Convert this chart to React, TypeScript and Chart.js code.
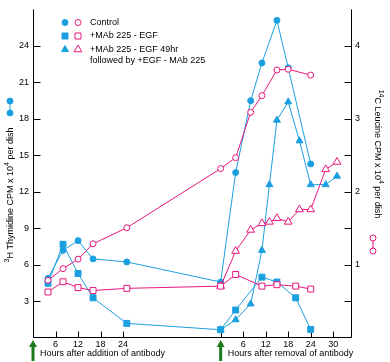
import React, { useEffect, useRef } from 'react';
import { Chart, registerables } from 'chart.js';

Chart.register(...registerables);

// x-axis break: hours after addition at which the antibody was removed
const REMOVAL_OFFSET = 50;

// ---- hours after addition of antibody ----
const additionHours = [4, 8, 12, 16, 25];
const controlThyAdd = [4.9, 7.2, 8.0, 6.5, 6.25];
const controlLeuAdd = [0.79, 0.95, 1.08, 1.29, 1.51];
const mabThyAdd = [4.5, 7.7, 5.3, 3.3, 1.2];
const mabLeuAdd = [0.63, 0.77, 0.69, 0.65, 0.68];

// ---- hours after removal of antibody ----
const controlRemovalHours = [0, 4, 8, 11, 15, 18, 24];
const controlThyRem = [4.6, 13.6, 19.5, 22.6, 26.1, 22.2, 14.3];
const controlLeuRem = [2.32, 2.47, 3.09, 3.32, 3.67, 3.68, 3.6];

const mabRemovalHours = [0, 4, 11, 15, 20, 24];
const mabThyRem = [0.68, 2.3, 5.0, 4.6, 3.3, 0.7];
const mabLeuRem = [0.71, 0.87, 0.71, 0.73, 0.71, 0.67];

const rescueRemovalHours = [0, 4, 8, 11, 13, 15, 18, 21, 24, 28, 31];
const rescueThyRem = [0.68, 1.5, 2.8, 7.2, 12.6, 17.9, 19.4, 16.2, 12.6, 12.6, 13.3];
const rescueLeuRem = [0.71, 1.19, 1.48, 1.57, 1.59, 1.64, 1.59, 1.76, 1.76, 2.31, 2.41];

// ---- ticks ----
const additionTicks = [6, 12, 18, 24];
const removalTicks = [0, 6, 12, 18, 24, 30];
const thymidineTicks = [3, 6, 9, 12, 15, 18, 21, 24];
const leucineTicks = [0.5, 1, 1.5, 2, 2.5, 3, 3.5, 4];

const legendLabels = ['Control', '+MAb 225 - EGF', '+MAb 225 - EGF 49hr', 'followed by +EGF - MAb 225'];
const xTitleAddition = 'Hours after addition of antibody';
const xTitleRemoval = 'Hours after removal of antibody';
const leftTitle = [
  { t: '3', sup: true },
  { t: 'H Thymidine CPM x 10', sup: false },
  { t: '4', sup: true },
  { t: ' per dish', sup: false },
];
const rightTitle = [
  { t: '14', sup: true },
  { t: 'C Leucine CPM x 10', sup: false },
  { t: '4', sup: true },
  { t: ' per dish', sup: false },
];

const BLUE = '#1a9fe0';
const PINK = '#e6177d';
const GREEN = '#1b7a1b';
const FONT = '"Liberation Sans", Arial, Helvetica, sans-serif';

function series(addH: number[], addV: number[], remH: number[], remV: number[]) {
  const pts: { x: number; y: number }[] = [];
  addH.forEach((h, i) => pts.push({ x: h, y: addV[i] }));
  remH.forEach((h, i) => pts.push({ x: h + REMOVAL_OFFSET, y: remV[i] }));
  return pts;
}

function drawMarker(ctx: CanvasRenderingContext2D, style: string, x: number, y: number, filled: boolean, color: string) {
  ctx.save();
  ctx.beginPath();
  if (style === 'circle') {
    ctx.arc(x, y, 3, 0, Math.PI * 2);
  } else if (style === 'rect') {
    ctx.rect(x - 3, y - 3, 6, 6);
  } else {
    const r = filled ? 4 : 4.5;
    ctx.moveTo(x, y - r);
    ctx.lineTo(x + r * 0.866, y + r * 0.5);
    ctx.lineTo(x - r * 0.866, y + r * 0.5);
    ctx.closePath();
  }
  ctx.lineWidth = 1;
  ctx.strokeStyle = color;
  ctx.fillStyle = filled ? color : '#fff';
  ctx.fill();
  ctx.stroke();
  ctx.restore();
}

function drawRich(ctx: CanvasRenderingContext2D, parts: { t: string; sup: boolean }[], cx: number, cy: number, angle: number) {
  ctx.save();
  ctx.translate(cx, cy);
  ctx.rotate(angle);
  ctx.fillStyle = '#000';
  ctx.textBaseline = 'middle';
  ctx.textAlign = 'left';
  const main = `9px ${FONT}`;
  const small = `7px ${FONT}`;
  let total = 0;
  parts.forEach((p) => {
    ctx.font = p.sup ? small : main;
    total += ctx.measureText(p.t).width;
  });
  let x = -total / 2;
  parts.forEach((p) => {
    ctx.font = p.sup ? small : main;
    ctx.fillText(p.t, x, p.sup ? -3.5 : 0);
    x += ctx.measureText(p.t).width;
  });
  ctx.restore();
}

const decorPlugin = {
  id: 'decor',
  beforeDatasetsDraw(chart: any) {
    const { ctx, chartArea } = chart;
    const xs = chart.scales.x;
    const ys = chart.scales.y;
    const y1 = chart.scales.y1;
    const L = Math.floor(chartArea.left) + 0.5;
    const R = Math.round(chartArea.right) - 0.5;
    const B = Math.round(chartArea.bottom) - 0.5;
    ctx.save();
    ctx.strokeStyle = '#000';
    ctx.lineWidth = 1;
    ctx.beginPath();
    // axes lines
    ctx.moveTo(L, chartArea.top);
    ctx.lineTo(L, B);
    ctx.lineTo(R, B);
    ctx.lineTo(R, chartArea.top);
    // x ticks (inward)
    xs.ticks.forEach((t: any) => {
      const px = Math.round(xs.getPixelForValue(t.value)) + 0.5;
      ctx.moveTo(px, B);
      ctx.lineTo(px, B - 6);
    });
    ys.ticks.forEach((t: any) => {
      const py = Math.round(ys.getPixelForValue(t.value)) + 0.5;
      ctx.moveTo(L, py);
      ctx.lineTo(L + 7, py);
    });
    y1.ticks.forEach((t: any) => {
      const py = Math.round(y1.getPixelForValue(t.value)) + 0.5;
      ctx.moveTo(R, py);
      ctx.lineTo(R - 7, py);
    });
    ctx.stroke();
    ctx.restore();
  },
  afterDraw(chart: any) {
    const { ctx } = chart;
    const xs = chart.scales.x;
    // legend
    const rows = [22.5, 36, 49.5];
    const styles = ['circle', 'rect', 'triangle'];
    rows.forEach((ry, i) => {
      drawMarker(ctx, styles[i], 65, ry, true, BLUE);
      drawMarker(ctx, styles[i], 78, ry, false, PINK);
    });
    ctx.save();
    ctx.fillStyle = '#000';
    ctx.font = `9px ${FONT}`;
    ctx.textBaseline = 'middle';
    ctx.textAlign = 'left';
    ctx.fillText(legendLabels[0], 90, 22.5);
    ctx.fillText(legendLabels[1], 90, 36);
    ctx.fillText(legendLabels[2], 90, 49.5);
    ctx.fillText(legendLabels[3], 90, 61);
    ctx.restore();

    // axis titles
    drawRich(ctx, leftTitle, 11, 195, -Math.PI / 2);
    drawRich(ctx, rightTitle, 377, 154, Math.PI / 2);

    // dumbbell keys
    ctx.save();
    ctx.lineWidth = 1;
    ctx.strokeStyle = BLUE;
    ctx.beginPath();
    ctx.moveTo(10, 101);
    ctx.lineTo(10, 113);
    ctx.stroke();
    ctx.strokeStyle = PINK;
    ctx.beginPath();
    ctx.moveTo(373, 238);
    ctx.lineTo(373, 251);
    ctx.stroke();
    ctx.restore();
    drawMarker(ctx, 'circle', 10, 101, true, BLUE);
    drawMarker(ctx, 'circle', 10, 113, true, BLUE);
    drawMarker(ctx, 'circle', 373, 238, false, PINK);
    drawMarker(ctx, 'circle', 373, 251, false, PINK);

    // arrows + x titles
    [0, REMOVAL_OFFSET].forEach((v, i) => {
      const ax = xs.getPixelForValue(v);
      ctx.save();
      ctx.fillStyle = GREEN;
      ctx.beginPath();
      ctx.moveTo(ax, 340);
      ctx.lineTo(ax + 4, 347);
      ctx.lineTo(ax + 1.5, 347);
      ctx.lineTo(ax + 1.5, 361);
      ctx.lineTo(ax - 1.5, 361);
      ctx.lineTo(ax - 1.5, 347);
      ctx.lineTo(ax - 4, 347);
      ctx.closePath();
      ctx.fill();
      ctx.fillStyle = '#000';
      ctx.font = `9px ${FONT}`;
      ctx.textBaseline = 'middle';
      ctx.textAlign = 'left';
      ctx.fillText(i === 0 ? xTitleAddition : xTitleRemoval, ax + 7, 354);
      ctx.restore();
    });
  },
};

export default function App() {
  const ref = useRef<HTMLCanvasElement | null>(null);

  useEffect(() => {
    if (!ref.current) return;
    Chart.defaults.font.family = FONT;
    Chart.defaults.font.size = 9;
    Chart.defaults.color = '#000';

    const blueStyle = (ps: string, r: number) => ({
      borderColor: BLUE,
      backgroundColor: BLUE,
      pointBackgroundColor: BLUE,
      pointBorderColor: BLUE,
      pointStyle: ps,
      pointRadius: r,
      borderWidth: 1,
      pointBorderWidth: 1,
      tension: 0,
      yAxisID: 'y',
    });
    const pinkStyle = (ps: string, r: number) => ({
      borderColor: PINK,
      backgroundColor: '#fff',
      pointBackgroundColor: '#fff',
      pointBorderColor: PINK,
      pointStyle: ps,
      pointRadius: r,
      borderWidth: 1,
      pointBorderWidth: 1,
      tension: 0,
      yAxisID: 'y1',
    });

    const allXTicks = [
      ...additionTicks,
      ...removalTicks.map((h) => h + REMOVAL_OFFSET),
    ];

    const chart = new Chart(ref.current, {
      type: 'line',
      data: {
        datasets: [
          { label: 'Control leucine', data: series(additionHours, controlLeuAdd, controlRemovalHours, controlLeuRem), ...pinkStyle('circle', 3) },
          { label: 'MAb leucine', data: series(additionHours, mabLeuAdd, mabRemovalHours, mabLeuRem), ...pinkStyle('rect', 4.2) },
          { label: 'Rescue leucine', data: series([], [], rescueRemovalHours, rescueLeuRem), ...pinkStyle('triangle', 4.5) },
          { label: 'Control thymidine', data: series(additionHours, controlThyAdd, controlRemovalHours, controlThyRem), ...blueStyle('circle', 3) },
          { label: 'MAb thymidine', data: series(additionHours, mabThyAdd, mabRemovalHours, mabThyRem), ...blueStyle('rect', 4.2) },
          { label: 'Rescue thymidine', data: series([], [], rescueRemovalHours, rescueThyRem), ...blueStyle('triangle', 4) },
        ] as any,
      },
      options: {
        responsive: false,
        animation: false,
        layout: { padding: 0, autoPadding: false } as any,
        plugins: { legend: { display: false }, tooltip: { enabled: false } },
        scales: {
          x: {
            type: 'linear',
            min: 0,
            max: 85,
            grid: { display: false, drawTicks: false },
            border: { display: false },
            afterBuildTicks: (s: any) => {
              s.ticks = allXTicks.map((v) => ({ value: v }));
            },
            afterFit: (s: any) => {
              s.height = 24;
            },
            ticks: {
              autoSkip: false,
              maxRotation: 0,
              padding: 1,
              font: { size: 9 },
              callback: (v: any) => {
                const n = Number(v);
                if (n >= REMOVAL_OFFSET) return n === REMOVAL_OFFSET ? '' : String(n - REMOVAL_OFFSET);
                return String(n);
              },
            },
          },
          y: {
            type: 'linear',
            position: 'left',
            min: 0,
            max: 27,
            grid: { display: false, drawTicks: false },
            border: { display: false },
            afterBuildTicks: (s: any) => {
              s.ticks = thymidineTicks.map((v) => ({ value: v }));
            },
            afterFit: (s: any) => {
              s.width = 33;
            },
            ticks: { padding: 4, font: { size: 9 }, callback: (v: any) => String(v) },
          },
          y1: {
            type: 'linear',
            position: 'right',
            min: 0,
            max: 4.5,
            grid: { display: false, drawTicks: false },
            border: { display: false },
            afterBuildTicks: (s: any) => {
              s.ticks = leucineTicks.map((v) => ({ value: v }));
            },
            afterFit: (s: any) => {
              s.width = 38;
            },
            ticks: {
              padding: 3,
              font: { size: 9 },
              callback: (v: any) => (Number.isInteger(Number(v)) ? String(v) : ''),
            },
          },
        },
      } as any,
      plugins: [decorPlugin as any],
    });
    return () => chart.destroy();
  }, []);

  return (
    <div style={{ position: 'fixed', left: 0, top: 0, width: 390, height: 362, background: '#fff' }}>
      <canvas ref={ref} width={390} height={362} style={{ display: 'block', width: 390, height: 362 }} />
    </div>
  );
}
